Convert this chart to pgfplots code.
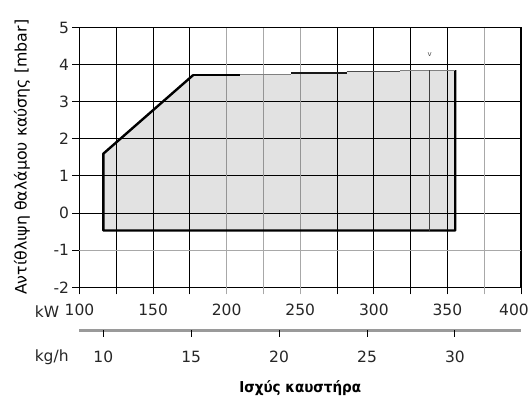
\documentclass[border=0pt]{standalone}
\usepackage{pgfplots}
\pgfplotsset{compat=1.18}
\usepackage{fontspec}
\setmainfont{DejaVu Sans}
\newfontfamily\labfont{DejaVu Sans Condensed}
\definecolor{gridgray}{HTML}{A8A8A8}
\definecolor{scalegray}{HTML}{9A9A9A}
\begin{document}
\begin{tikzpicture}
\useasboundingbox (-79.5pt,-111.7pt) rectangle (451.5pt,287.3pt);
\begin{axis}[
  at={(0pt,0pt)}, anchor=south west,
  scale only axis, width=441.5pt, height=259.8pt,
  xmin=100, xmax=400, ymin=-2, ymax=5,
  clip=false,
  xtick={100,125,150,175,275,300,325,350,400},
  xticklabels={100,,150,,,300,,350,\hspace*{-14pt}400},
  extra x ticks={200,225,250,375},
  extra x tick labels={200,,250,},
  extra x tick style={grid=major, major grid style={gridgray, line width=1.1pt}, major tick style={gridgray, line width=1pt}},
  ytick={-2,0,1,2,3,4,5},
  yticklabels={-2,0,1,2,3,4,5},
  extra y ticks={-1},
  extra y tick labels={-1},
  extra y tick style={grid=major, major grid style={gridgray, line width=1.1pt}},
  grid=major, major grid style={black, line width=1pt},
  tick align=outside, xtick pos=bottom, ytick pos=left,
  major tick length=7pt,
  tick style={black, line width=1pt},
  axis line style={black, line width=1.2pt},
  ticklabel style={font=\fontsize{15.5}{17}\selectfont, text=black!85},
  xticklabel style={yshift=-6pt},
  /pgf/number format/assume math mode=true,
  every axis y label/.style={at={(axis description cs:-0.1302,0.5)}, rotate=90, anchor=center, font=\fontsize{15.8}{17}\selectfont},
  ylabel={Αντίθλιψη θαλάμου καύσης [mbar]},
  every axis x label/.style={at={(axis description cs:0.5,-0.3876)}, anchor=center, font=\labfont\bfseries\fontsize{15}{17}\selectfont},
  xlabel={Ισχύς καυστήρα},
]
\addplot[fill=black, fill opacity=0.115, draw=none] coordinates {
  (116.2,-0.47) (116.2,1.6) (177.3,3.72) (209,3.72) (209,3.74) (244,3.74) (244,3.77)
  (281.5,3.77) (281.5,3.81) (317.8,3.81) (317.8,3.85) (355.3,3.85) (355.3,-0.47) (116.2,-0.47)};
\addplot[black, line width=2.4pt, line join=round] coordinates {
  (177.3,3.72) (116.2,1.6) (116.2,-0.47) (355.3,-0.47) (355.3,3.85)};
\addplot[black, line width=1.8pt] coordinates {(177.3,3.72) (209,3.72)};
\addplot[gray, line width=1.2pt] coordinates {(209,3.74) (244,3.74)};
\addplot[black!90, line width=2pt] coordinates {(244,3.77) (281.5,3.77)};
\addplot[black!70, line width=1.5pt] coordinates {(281.5,3.81) (317.8,3.81)};
\addplot[gray, line width=1.2pt] coordinates {(317.8,3.85) (355.3,3.85)};
\addplot[black!75, line width=1pt] coordinates {(337.7,3.85) (337.7,-0.47)};
\node[font=\fontsize{7}{8}\selectfont, text=black!70] at (axis cs:338,4.26) {v};
\node[font=\fontsize{15.5}{17}\selectfont, text=black!85] at (axis description cs:-0.0736,-0.0939) {kW};
\node[font=\fontsize{15.5}{17}\selectfont, text=black!85] at (axis description cs:-0.063,-0.2683) {kg/h};
% secondary kg/h scale: axis line, ticks and labels
\draw[scalegray, line width=3pt] (axis cs:100,-3.1505) -- (axis cs:400,-3.1505);
\draw[black, line width=1.1pt] (axis cs:116.2,-3.1505) -- (axis cs:116.2,-3.34);
\draw[black, line width=1.1pt] (axis cs:175.9,-3.1505) -- (axis cs:175.9,-3.34);
\draw[black, line width=1.1pt] (axis cs:235.6,-3.1505) -- (axis cs:235.6,-3.34);
\draw[black, line width=1.1pt] (axis cs:295.4,-3.1505) -- (axis cs:295.4,-3.34);
\draw[black, line width=1.1pt] (axis cs:355.1,-3.1505) -- (axis cs:355.1,-3.34);
\node[font=\fontsize{15.5}{17}\selectfont, text=black!85] at (axis cs:116.2,-3.878) {10};
\node[font=\fontsize{15.5}{17}\selectfont, text=black!85] at (axis cs:175.9,-3.878) {15};
\node[font=\fontsize{15.5}{17}\selectfont, text=black!85] at (axis cs:235.6,-3.878) {20};
\node[font=\fontsize{15.5}{17}\selectfont, text=black!85] at (axis cs:295.4,-3.878) {25};
\node[font=\fontsize{15.5}{17}\selectfont, text=black!85] at (axis cs:355.1,-3.878) {30};
\end{axis}
\end{tikzpicture}
\end{document}
